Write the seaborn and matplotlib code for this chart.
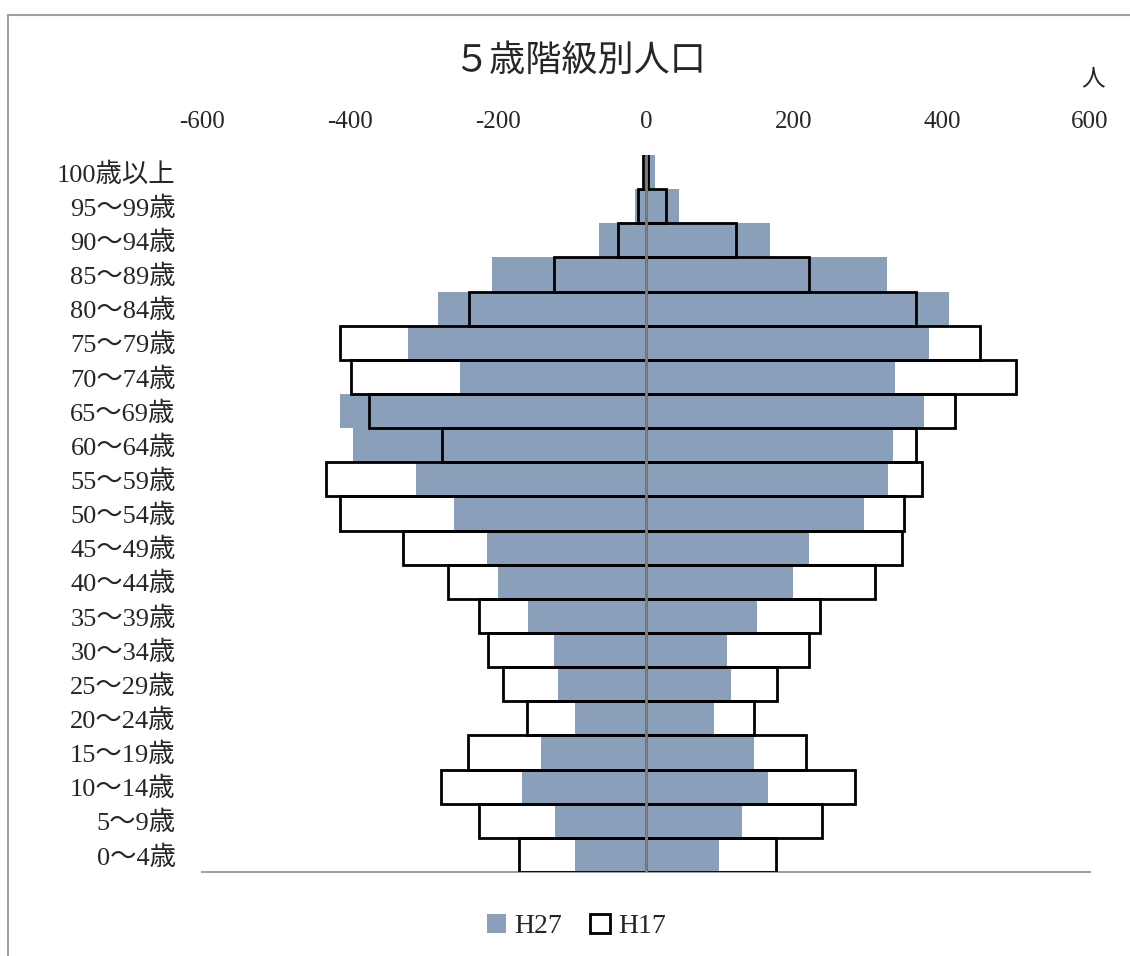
import matplotlib
matplotlib.use("Agg")
import matplotlib.pyplot as plt
import seaborn as sns
import pandas as pd
from matplotlib.patches import Patch

categories = ["100歳以上", "95～99歳", "90～94歳", "85～89歳", "80～84歳", "75～79歳",
              "70～74歳", "65～69歳", "60～64歳", "55～59歳", "50～54歳", "45～49歳",
              "40～44歳", "35～39歳", "30～34歳", "25～29歳", "20～24歳", "15～19歳",
              "10～14歳", "5～9歳", "0～4歳"]

# left side (shown as negative)
h27_left = [2, 15, 64, 208, 281, 321, 251, 414, 396, 311, 260, 215,
            200, 160, 124, 119, 96, 142, 168, 123, 96]
h17_left = [4, 11, 38, 124, 239, 413, 399, 374, 276, 433, 414, 328,
            267, 226, 213, 193, 161, 241, 277, 226, 172]
# right side
h27_right = [12, 45, 167, 326, 409, 383, 336, 376, 334, 327, 294, 220,
             198, 150, 109, 115, 92, 146, 165, 130, 99]
h17_right = [3, 27, 122, 220, 365, 452, 500, 418, 365, 373, 348, 346,
             309, 235, 220, 177, 146, 216, 282, 238, 176]

xticks = [-600, -400, -200, 0, 200, 400, 600]
xticklabels = ["-600", "-400", "-200", "0", "200", "400", "600"]

BLUE = "#8AA0BA"
FONTS = ["Liberation Serif", "Noto Sans CJK JP", "DejaVu Sans"]

sns.set_style("white")
plt.rcParams["font.family"] = FONTS

df = pd.DataFrame({
    "cat": categories,
    "h27_l": [-v for v in h27_left],
    "h17_l": [-v for v in h17_left],
    "h27_r": h27_right,
    "h17_r": h17_right,
})

fig = plt.figure(figsize=(11.3, 9.56), dpi=100)
ax = fig.add_axes([0.1788, 0.0879, 0.7858, 0.75])

# H17 white fill underneath
for col in ["h17_l", "h17_r"]:
    sns.barplot(data=df, x=col, y="cat", orient="h", color="white", width=1.0,
                edgecolor="none", linewidth=0, ax=ax, zorder=1, saturation=1)
# H27 blue
for col in ["h27_l", "h27_r"]:
    sns.barplot(data=df, x=col, y="cat", orient="h", color=BLUE, width=1.0,
                edgecolor="none", linewidth=0, ax=ax, zorder=2, saturation=1)
# H17 outlines on top
for col in ["h17_l", "h17_r"]:
    sns.barplot(data=df, x=col, y="cat", orient="h", fill=False, width=1.0,
                edgecolor="black", linewidth=2.0, ax=ax, zorder=3)

ax.axvline(0, color="#808080", linewidth=2, zorder=4)

ax.set_xlim(-600, 600)
ax.set_ylim(len(categories) - 0.5, -0.5)
ax.set_xticks(xticks)
ax.set_xticklabels(xticklabels)
ax.xaxis.tick_top()
ax.tick_params(axis="x", length=0, pad=16, labelsize=18)
ax.tick_params(axis="y", length=0, pad=19, labelsize=19)
ax.set_xlabel("")
ax.set_ylabel("")
for s in ["top", "left", "right"]:
    ax.spines[s].set_visible(False)
ax.spines["bottom"].set_color("#A0A0A0")
ax.spines["bottom"].set_linewidth(1.5)

fig.text(0.513, 0.935, "５歳階級別人口", ha="center", va="center", fontsize=26,
         family=FONTS)
fig.text(0.967, 0.917, "人", ha="center", va="center", fontsize=17, family=FONTS)

# outer chart border (top and left visible)
fig.add_artist(plt.Line2D([0.007, 1.0], [0.984, 0.984], color="#A0A0A0", lw=1.5,
                          transform=fig.transFigure))
fig.add_artist(plt.Line2D([0.007, 0.007], [0.0, 0.984], color="#A0A0A0", lw=1.5,
                          transform=fig.transFigure))

handles = [Patch(facecolor=BLUE, edgecolor="none", label="H27"),
           Patch(facecolor="white", edgecolor="black", linewidth=2, label="H17")]
fig.legend(handles=handles, loc="center", bbox_to_anchor=(0.51, 0.031), ncol=2,
           frameon=False, fontsize=20, handlelength=0.7, handleheight=0.7,
           handletextpad=0.3, columnspacing=1.0)

fig.savefig("out.png", dpi=100)
